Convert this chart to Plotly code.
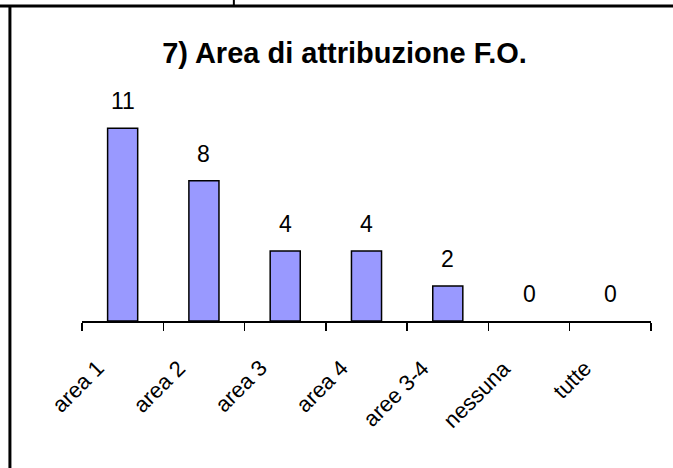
import plotly.graph_objects as go

categories = ["area 1", "area 2", "area 3", "area 4", "aree 3-4", "nessuna", "tutte"]
values = [11, 8, 4, 4, 2, 0, 0]
title_text = "7) Area di attribuzione F.O."

W, H = 673, 468
L, R, T, B = 82.3, 22.3, 80, 147.3
PW, PH = W - L - R, H - T - B

def px_x(px):
    return (px - L) / PW

def px_y(py):
    return (H - B - py) / PH

xs = list(range(len(categories)))

fig = go.Figure()
fig.add_trace(go.Bar(
    x=xs, y=values, width=0.37,
    marker=dict(color="#9999FF",
                line=dict(color="black", width=[1.5 if v > 0 else 0 for v in values])),
    hoverinfo="skip",
))

annotations = []
for i, (c, v) in enumerate(zip(categories, values)):
    annotations.append(dict(
        x=i, y=v, xref="x", yref="y", text=str(v), showarrow=False,
        xanchor="center", yanchor="bottom", yshift=12,
        font=dict(family="Liberation Sans, Arial", size=23, color="black"),
    ))
    annotations.append(dict(
        x=i, y=0, xref="x", yref="y", text=c, showarrow=False,
        textangle=-45, xanchor="right", yanchor="top", xshift=-11, yshift=-32,
        font=dict(family="Liberation Sans, Arial", size=22, color="black"),
    ))

shapes = [
    dict(type="line", xref="paper", yref="paper", x0=px_x(0), x1=px_x(W), y0=px_y(6), y1=px_y(6),
         line=dict(color="black", width=3)),
    dict(type="line", xref="paper", yref="paper", x0=px_x(10.3), x1=px_x(10.3), y0=px_y(6), y1=px_y(H),
         line=dict(color="black", width=3)),
    dict(type="line", xref="paper", yref="paper", x0=px_x(234), x1=px_x(234), y0=px_y(0), y1=px_y(6),
         line=dict(color="black", width=2)),
]

fig.update_layout(
    width=W, height=H,
    margin=dict(l=L, r=R, t=T, b=B, pad=0),
    paper_bgcolor="white", plot_bgcolor="white",
    showlegend=False,
    title=dict(text="<b>" + title_text + "</b>", x=344.5 / W, xref="container", xanchor="center",
               y=1 - 52.5 / H, yref="container", yanchor="middle",
               font=dict(family="Liberation Sans, Arial", size=29, color="black")),
    xaxis=dict(range=[-0.5, len(categories) - 0.5],
               tickvals=[i - 0.5 for i in range(len(categories) + 1)],
               showticklabels=False, ticks="outside", ticklen=8, tickwidth=1.5, tickcolor="black",
               showline=True, linecolor="black", linewidth=1.5,
               showgrid=False, zeroline=False, fixedrange=True),
    yaxis=dict(range=[0, 13.75], visible=False, fixedrange=True),
    annotations=annotations,
    shapes=shapes,
)

fig.write_html("out.html", config={"displayModeBar": False, "staticPlot": True},
               post_script="document.body.style.margin='0';document.body.style.padding='0';")
